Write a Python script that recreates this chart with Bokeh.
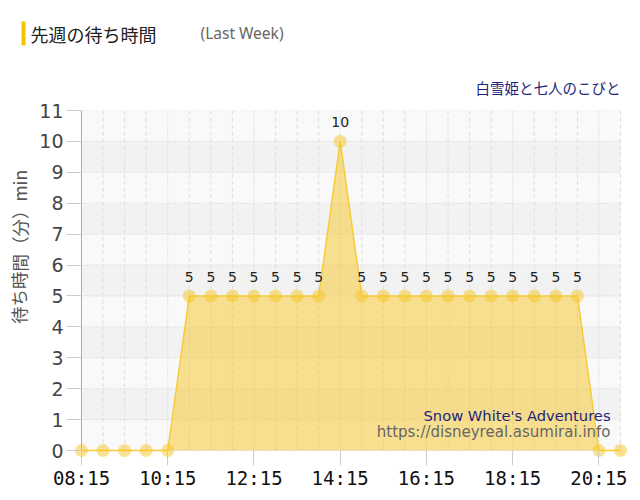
from bokeh.plotting import figure
from bokeh.models import ColumnDataSource, Range1d, FixedTicker, Label
from bokeh.layouts import column, row
from bokeh.core.properties import value
from bokeh.embed import file_html
from bokeh.resources import INLINE

# ---- data ----
times = ["08:15", "08:45", "09:15", "09:45", "10:15", "10:45", "11:15", "11:45",
         "12:15", "12:45", "13:15", "13:45", "14:15", "14:45", "15:15", "15:45",
         "16:15", "16:45", "17:15", "17:45", "18:15", "18:45", "19:15", "19:45",
         "20:15", "20:45"]
waits = [0, 0, 0, 0, 0, 5, 5, 5, 5, 5, 5, 5, 10, 5, 5, 5, 5, 5, 5, 5, 5, 5, 5, 5, 0, 0]
x_tick_labels = ["08:15", "10:15", "12:15", "14:15", "16:15", "18:15", "20:15"]
y_ticks = list(range(0, 12))

title_text = "先週の待ち時間"
title_sub = "(Last Week)"
attraction_ja = "白雪姫と七人のこびと"
attraction_en = "Snow White's Adventures"
site_url = "https://disneyreal.asumirai.info"
y_label = "待ち時間（分）min"


def to_h(s):
    h, m = s.split(":")
    return int(h) + int(m) / 60.0


hours = [to_h(t) for t in times]
tick_pos = [to_h(t) for t in x_tick_labels]
x0, x1 = hours[0], hours[-1]
y_top = y_ticks[-1]

# page-pixel helpers (plot x: 43.2 px/h, y: 30.909 px/unit)
PXH = 43.2
PYU = 340 / 11.0


def px(xp):
    return x0 + (xp - 80) / PXH


def py(yp):
    return (450 - yp) / PYU


def blank_fig(w, h, x_start, x_end, y_start, y_end):
    f = figure(width=w, height=h, output_backend="svg", toolbar_location=None,
               title=None, x_axis_location=None, y_axis_location=None,
               x_range=Range1d(x_start, x_end), y_range=Range1d(y_start, y_end),
               min_border=0)
    f.outline_line_color = None
    f.background_fill_color = "white"
    f.border_fill_color = "white"
    f.xgrid.visible = False
    f.ygrid.visible = False
    return f


# ---- header (page pixel coordinates, y downward) ----
HEAD_H = 100
head = blank_fig(640, HEAD_H, 0, 640, HEAD_H, 0)
head.quad(left=[21], right=[25], top=[21], bottom=[45], fill_color="#f5c400",
          line_color=None)
head.text(x=[30], y=[33], text=[title_text], text_baseline="middle",
          text_font=value("Noto Sans CJK JP"), text_font_size="18px",
          text_color="#222222")
head.text(x=[200], y=[32], text=[title_sub], text_baseline="middle",
          text_font=value("Noto Sans"), text_font_size="15.5px", text_color="#666666")
head.text(x=[620], y=[87], text=[attraction_ja], text_baseline="middle",
          text_align="right", text_font=value("Noto Sans CJK JP"),
          text_font_size="14.5px", text_color="#23237a")

# ---- left strip with the rotated y-axis title ----
SIDE_W = 36
side = blank_fig(SIDE_W, 500 - HEAD_H, 0, SIDE_W, 500, HEAD_H)
side.text(x=[18.5], y=[256], text=[y_label], text_baseline="middle",
          text_align="center", angle=1.5707963,
          text_font=value("Noto Sans CJK JP"), text_font_size="17.5px",
          text_color="#555555")

# ---- main chart ----
src = ColumnDataSource(dict(x=hours, y=waits, zero=[0] * len(hours)))
lab_x = [h for h, w in zip(hours, waits) if w > 0]
lab_y = [w for w in waits if w > 0]
lab_src = ColumnDataSource(dict(x=lab_x, y=lab_y, t=[str(w) for w in lab_y]))

p = figure(width=640 - SIDE_W, height=500 - HEAD_H, output_backend="svg",
           toolbar_location=None, title=None,
           x_range=Range1d(px(70), px(630)), y_range=Range1d(py(460), y_top),
           min_border_left=70 - SIDE_W, min_border_right=10,
           min_border_top=110 - HEAD_H, min_border_bottom=40)
p.outline_line_color = None
p.background_fill_color = "white"
p.border_fill_color = "white"
p.xgrid.visible = False
p.ygrid.visible = False

# background bands
band_b = y_ticks[:-1]
band_t = y_ticks[1:]
band_c = ["#f9f9f9" if k % 2 == 0 else "#f2f2f2" for k in band_b]
p.quad(left=x0, right=x1, bottom=band_b, top=band_t, fill_color=band_c,
       line_color=None)

# horizontal grid
p.segment(x0=[x0] * len(y_ticks), x1=[x1] * len(y_ticks), y0=y_ticks, y1=y_ticks,
          line_color="#cccccc", line_width=1, line_dash="1 2")
# vertical grid
minor = [h for h in hours if h not in tick_pos and h != x0]
p.segment(x0=minor, x1=minor, y0=[0] * len(minor), y1=[y_top] * len(minor),
          line_color="#dddddd", line_width=1, line_dash="4 3")
major = [h for h in tick_pos if h != x0]
p.segment(x0=major, x1=major, y0=[0] * len(major), y1=[y_top] * len(major),
          line_color="#cccccc", line_width=1, line_dash="1 2")
# left axis line
p.segment(x0=[x0], x1=[x0], y0=[0], y1=[y_top], line_color="#aaaaaa", line_width=1)

# area, line, markers
p.varea(x="x", y1="zero", y2="y", source=src, fill_color="#f5c626", fill_alpha=0.5)
p.line(x="x", y="y", source=src, line_color="#f7cc3a", line_width=1.5)
p.scatter(x="x", y="y", source=src, size=13, fill_color="#f5c626", fill_alpha=0.5,
          line_color=None)

# value labels
p.text(x="x", y="y", text="t", source=lab_src, text_align="center",
       text_baseline="middle", y_offset=-19, text_font=value("DejaVu Sans"),
       text_font_size="14px", text_color="#222222")

# axes
xa = p.xaxis[0]
xa.ticker = FixedTicker(ticks=tick_pos)
xa.major_label_overrides = {t: l for t, l in zip(tick_pos, x_tick_labels)}
xa.axis_line_color = None
xa.major_tick_line_color = "#cccccc"
xa.major_tick_in = 10
xa.major_tick_out = 5
xa.minor_tick_line_color = None
xa.major_label_standoff = 1
xa.major_label_text_font = "DejaVu Sans Mono"
xa.major_label_text_font_size = "19px"
xa.major_label_text_color = "#111111"

ya = p.yaxis[0]
ya.ticker = FixedTicker(ticks=y_ticks)
ya.axis_line_color = None
ya.major_tick_line_color = "#cccccc"
ya.major_tick_in = 10
ya.major_tick_out = 5
ya.minor_tick_line_color = None
ya.major_label_standoff = 3
ya.major_label_text_font = "DejaVu Sans"
ya.major_label_text_font_size = "19px"
ya.major_label_text_color = "#444444"

# notes inside the plot area
p.add_layout(Label(x=px(610), y=py(415), text=attraction_en, text_baseline="middle",
                   text_align="right", text_font="DejaVu Sans",
                   text_font_size="14.7px", text_color="#23237a"))
p.add_layout(Label(x=px(610), y=py(431), text=site_url, text_baseline="middle",
                   text_align="right", text_font="DejaVu Sans",
                   text_font_size="15px", text_color="#666666"))

layout = column(head, row(side, p, spacing=0), spacing=0)
open("out.html", "w").write(file_html(layout, INLINE))
